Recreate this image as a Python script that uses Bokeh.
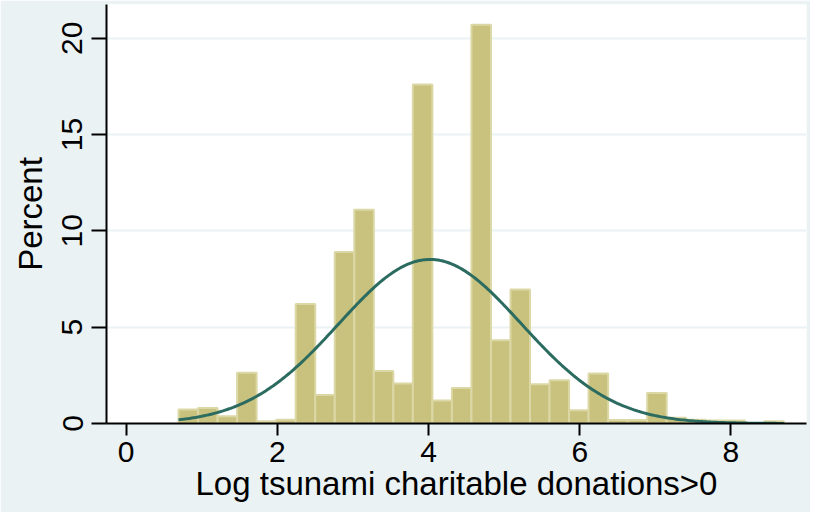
import numpy as np
from bokeh.plotting import figure
from bokeh.models import FixedTicker, Range1d
from bokeh.embed import file_html
from bokeh.resources import INLINE

# ---- data ----
bin_start = 0.693      # left edge of the first bin
bin_width = 0.2583     # width of every bin
percent = [0.73, 0.81, 0.37, 2.63, 0.12, 0.20, 6.20, 1.48, 8.90, 11.10,
           2.72, 2.07, 17.60, 1.19, 1.84, 20.70, 4.32, 6.95, 2.04, 2.24,
           0.69, 2.60, 0.18, 0.18, 1.58, 0.30, 0.20, 0.15, 0.15, 0.00, 0.12]
x_ticks = [0, 2, 4, 6, 8]
y_ticks = [0, 5, 10, 15, 20]
y_grid = [5, 10, 15, 20]
norm_mean = 4.02       # fitted normal density
norm_sd = 1.21
data_min = 0.693
data_max = 8.70

BG = "#EAF2F3"
BAR_FILL = "#C9C27E"
BAR_LINE = "#DCD8A6"
CURVE = "#2B6B60"
FONT = "Liberation Sans"

left = [bin_start + i * bin_width for i in range(len(percent))]
right = [l + bin_width for l in left]

xs = np.linspace(data_min, data_max, 300)
ys = 100 * bin_width * np.exp(-0.5 * ((xs - norm_mean) / norm_sd) ** 2) / (norm_sd * np.sqrt(2 * np.pi))

p = figure(width=810, height=512, output_backend="svg", toolbar_location=None,
           x_range=Range1d(-0.26, 9.0), y_range=Range1d(0, 21.75),
           min_border_left=106, min_border_right=4, min_border_top=4, min_border_bottom=89)
p.border_fill_color = BG
p.background_fill_color = "white"
p.outline_line_color = None

p.quad(left=left, right=right, bottom=0, top=percent,
       fill_color=BAR_FILL, line_color=BAR_LINE, line_width=2)
p.line(xs, ys, line_color=CURVE, line_width=3)

p.xgrid.visible = False
p.ygrid.ticker = FixedTicker(ticks=y_grid)
p.ygrid.grid_line_color = BG
p.ygrid.grid_line_width = 2

for ax in (p.xaxis[0], p.yaxis[0]):
    ax.axis_line_color = "black"
    ax.axis_line_width = 2
    ax.major_tick_line_color = "black"
    ax.major_tick_line_width = 2
    ax.major_tick_in = 0
    ax.minor_tick_line_color = None
    ax.major_label_text_font = FONT
    ax.major_label_text_font_size = "30px"
    ax.major_label_text_color = "black"
    ax.axis_label_text_font = FONT
    ax.axis_label_text_font_size = "33px"
    ax.axis_label_text_font_style = "normal"
    ax.axis_label_text_color = "black"

p.xaxis.ticker = FixedTicker(ticks=x_ticks)
p.xaxis.major_tick_out = 12
p.xaxis.major_label_standoff = 6
p.xaxis.axis_label = "Log tsunami charitable donations>0"
p.xaxis.axis_label_standoff = 0

p.yaxis.ticker = FixedTicker(ticks=y_ticks)
p.yaxis.major_tick_out = 15
p.yaxis.major_label_standoff = 9
p.yaxis.major_label_orientation = "vertical"
p.yaxis.axis_label = "Percent"
p.yaxis.axis_label_standoff = 11

open("out.html", "w").write(file_html(p, INLINE))
